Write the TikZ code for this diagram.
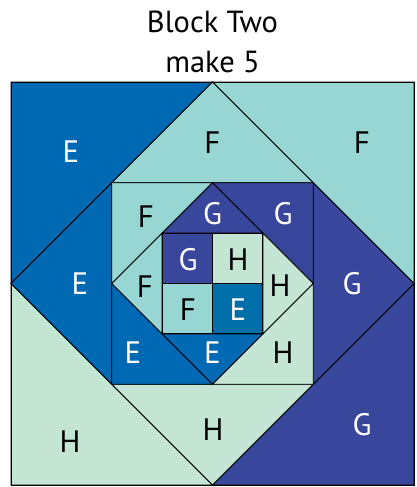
\documentclass[tikz,border=0pt]{standalone}
\usepackage{fontspec}
\setmainfont{PT Sans}
\definecolor{colE}{RGB}{0,105,180}
\definecolor{colEi}{RGB}{0,110,168}
\definecolor{colG}{RGB}{56,71,155}
\definecolor{colF}{RGB}{152,214,212}
\definecolor{colH}{RGB}{196,228,212}
\begin{document}
\begin{tikzpicture}[x=1pt,y=-1pt,
  patch/.style={draw=black,line width=0.8pt,line join=miter},
  lbl/.style={font=\fontsize{31}{33}\selectfont,inner sep=0pt,anchor=center},
  lw/.style={lbl,text=white},
  lk/.style={lbl,text=black},
  ttl/.style={font=\fontsize{30.5}{33}\selectfont,inner sep=0pt,anchor=base}]
\useasboundingbox (0,0) rectangle (417,487);
% key points
\coordinate (A) at (11,82); \coordinate (B) at (414,82);
\coordinate (C) at (414,485); \coordinate (D) at (11,485);
\coordinate (T1) at (212.5,82); \coordinate (R1) at (414,283.5);
\coordinate (B1) at (212.5,485); \coordinate (L1) at (11,283.5);
\coordinate (s2a) at (111.75,182.75); \coordinate (s2b) at (313.25,182.75);
\coordinate (s2c) at (313.25,384.25); \coordinate (s2d) at (111.75,384.25);
\coordinate (T2) at (212.5,182.75); \coordinate (R2) at (313.25,283.5);
\coordinate (B2) at (212.5,384.25); \coordinate (L2) at (111.75,283.5);
\coordinate (s3a) at (162.125,233.125); \coordinate (s3b) at (262.875,233.125);
\coordinate (s3c) at (262.875,333.875); \coordinate (s3d) at (162.125,333.875);
\coordinate (M) at (212.5,283.5);
\coordinate (Mt) at (212.5,233.125); \coordinate (Mb) at (212.5,333.875);
\coordinate (Ml) at (162.125,283.5); \coordinate (Mr) at (262.875,283.5);
% outer corners
\filldraw[patch,fill=colE] (A) -- (T1) -- (L1) -- cycle;
\filldraw[patch,fill=colF] (B) -- (R1) -- (T1) -- cycle;
\filldraw[patch,fill=colG] (C) -- (B1) -- (R1) -- cycle;
\filldraw[patch,fill=colH] (D) -- (L1) -- (B1) -- cycle;
% ring 2: diamond 1 tips
\filldraw[patch,fill=colF] (T1) -- (s2b) -- (s2a) -- cycle;
\filldraw[patch,fill=colG] (R1) -- (s2c) -- (s2b) -- cycle;
\filldraw[patch,fill=colH] (B1) -- (s2d) -- (s2c) -- cycle;
\filldraw[patch,fill=colE] (L1) -- (s2a) -- (s2d) -- cycle;
% ring 3: square 2 corners
\filldraw[patch,fill=colF] (s2a) -- (T2) -- (L2) -- cycle;
\filldraw[patch,fill=colG] (s2b) -- (R2) -- (T2) -- cycle;
\filldraw[patch,fill=colH] (s2c) -- (B2) -- (R2) -- cycle;
\filldraw[patch,fill=colE] (s2d) -- (L2) -- (B2) -- cycle;
% ring 4: diamond 2 tips
\filldraw[patch,fill=colG] (T2) -- (s3b) -- (s3a) -- cycle;
\filldraw[patch,fill=colH] (R2) -- (s3c) -- (s3b) -- cycle;
\filldraw[patch,fill=colE] (B2) -- (s3d) -- (s3c) -- cycle;
\filldraw[patch,fill=colF] (L2) -- (s3a) -- (s3d) -- cycle;
% centre four-patch
\filldraw[patch,fill=colG] (s3a) rectangle (M);
\filldraw[patch,fill=colH] (Mt) rectangle (Mr);
\filldraw[patch,fill=colF] (Ml) rectangle (Mb);
\filldraw[patch,fill=colEi] (M) rectangle (s3c);
\draw[patch] (A) rectangle (C);
% labels
\node[lw] (lE1) at (71,152) {E};
\node[lk] (lF1) at (212.5,143) {F};
\node[lk] (lF2) at (362,143) {F};
\node[lw] (lE2) at (80,284) {E};
\node[lw] (lG1) at (352,284) {G};
\node[lk] (lH1) at (70,442) {H};
\node[lk] (lH2) at (213,430) {H};
\node[lw] (lG2) at (362,425) {G};
\node[lk] (lF3) at (146,217) {F};
\node[lw] (lG3) at (212.5,214) {G};
\node[lw] (lG4) at (283,214) {G};
\node[lw] (lG5) at (188,260) {G};
\node[lk] (lH3) at (238,260) {H};
\node[lk] (lF4) at (145,287) {F};
\node[lk] (lH4) at (280,286) {H};
\node[lk] (lF5) at (188,310) {F};
\node[lw] (lE3) at (238,310) {E};
\node[lw] (lE4) at (133,353) {E};
\node[lw] (lE5) at (212.5,353) {E};
\node[lk] (lH5) at (283,353) {H};
% title
\node[ttl] (t1) at (212.5,33) {Block Two};
\node[ttl] (t2) at (212.5,72) {make 5};
\end{tikzpicture}
\end{document}
